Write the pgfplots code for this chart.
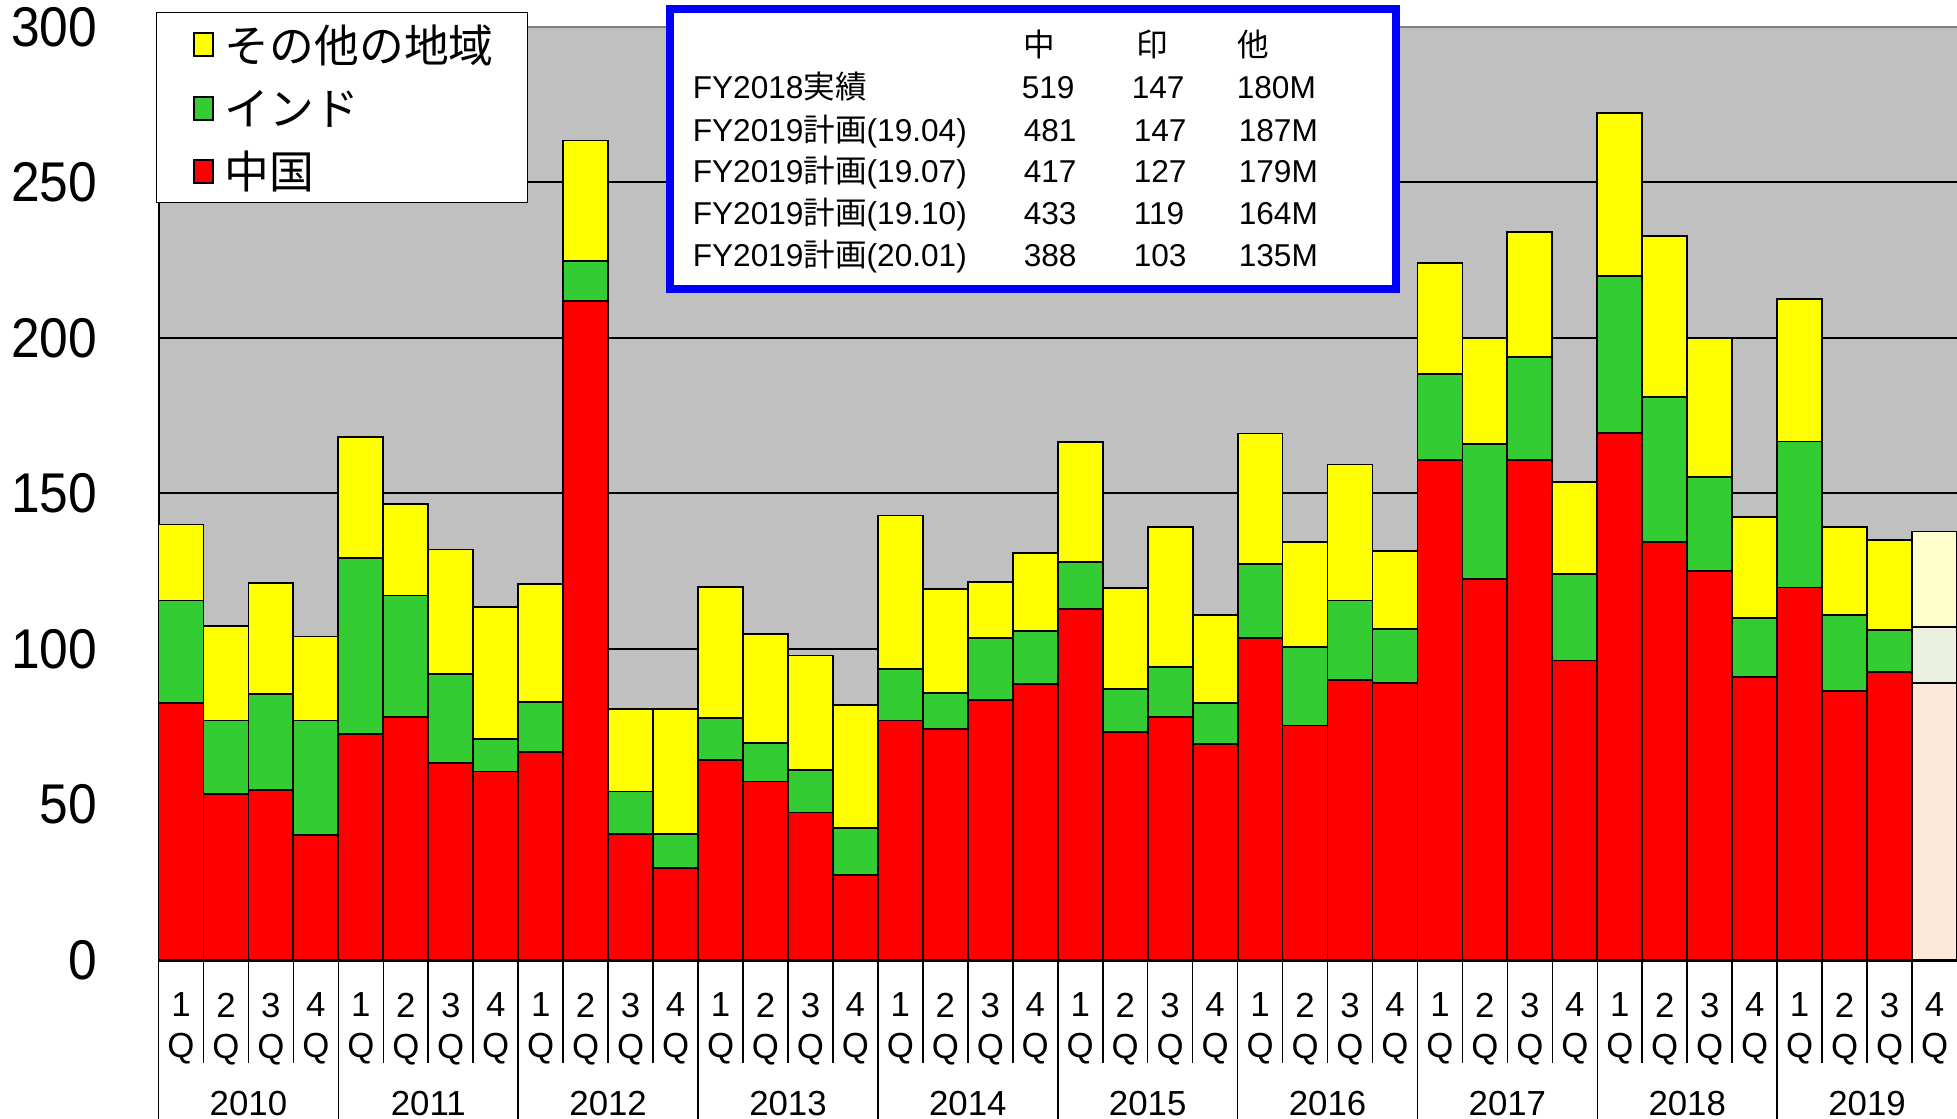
\documentclass[border=0pt]{standalone}
\usepackage{pgfplots}
\usepackage{pgfplotstable}
\pgfplotsset{compat=1.18}
\usepackage{fontspec}
\setmainfont{Liberation Sans}
\newfontfamily\narrowf{Liberation Sans}[FakeStretch=0.92]
\newfontfamily\jp{Noto Sans CJK JP}
\definecolor{cR}{HTML}{FF0000}
\definecolor{cG}{HTML}{33CC33}
\definecolor{cY}{HTML}{FFFF00}
\definecolor{pR}{HTML}{FDE9D9}
\definecolor{pG}{HTML}{EBF1DE}
\definecolor{pY}{HTML}{FFFFCC}
\definecolor{bg}{HTML}{C0C0C0}
\definecolor{topg}{HTML}{808080}
\definecolor{bl}{HTML}{0000FF}

\pgfplotstableread{
x r g y pr pg py
0 82.7 32.9 24.4 0 0 0
1 53.4 23.6 30.5 0 0 0
2 54.6 30.9 35.7 0 0 0
3 40.1 36.9 27.0 0 0 0
4 72.6 56.6 38.9 0 0 0
5 78.2 39.0 29.3 0 0 0
6 63.4 28.5 40.1 0 0 0
7 60.6 10.4 42.6 0 0 0
8 67.0 16.0 37.8 0 0 0
9 211.8 13.0 38.7 0 0 0
10 40.5 13.7 26.5 0 0 0
11 29.7 10.8 40.2 0 0 0
12 64.2 13.6 42.2 0 0 0
13 57.4 12.4 34.9 0 0 0
14 47.4 13.6 36.9 0 0 0
15 27.3 15.2 39.4 0 0 0
16 77.0 16.5 49.4 0 0 0
17 74.2 11.7 33.3 0 0 0
18 83.5 20.0 18.1 0 0 0
19 88.7 17.2 24.9 0 0 0
20 112.8 15.2 38.5 0 0 0
21 73.4 13.7 32.5 0 0 0
22 78.2 16.1 44.9 0 0 0
23 69.4 13.3 28.1 0 0 0
24 103.5 23.7 42.1 0 0 0
25 75.4 25.3 33.7 0 0 0
26 89.9 25.7 43.7 0 0 0
27 89.1 17.2 25.3 0 0 0
28 160.8 27.5 35.7 0 0 0
29 122.4 43.6 33.8 0 0 0
30 160.8 33.1 40.3 0 0 0
31 96.3 27.7 29.6 0 0 0
32 169.5 50.3 52.5 0 0 0
33 134.4 46.6 51.7 0 0 0
34 125.2 30.0 44.6 0 0 0
35 91.1 18.9 32.5 0 0 0
36 119.8 46.9 45.9 0 0 0
37 86.4 24.5 28.2 0 0 0
38 92.6 13.6 28.8 0 0 0
39 0 0 0 89.0 18.1 30.7
}\data

\begin{document}
\begin{tikzpicture}
\useasboundingbox (0,0) rectangle (489.25pt,279.75pt);
\begin{axis}[
  at={(39.625pt,39.75pt)}, anchor=south west,
  scale only axis, width=449.625pt, height=233.25pt,
  xmin=-0.5, xmax=39.5, ymin=0, ymax=300,
  ybar stacked, bar width=1,
  clip=false,
  axis background/.style={fill=bg},
  axis line style={draw=none},
  major tick length=0pt,
  ymajorgrids, grid style={black, line width=0.5pt},
  ytick={0,50,...,300},
  /pgf/number format/assume math mode=true,
  yticklabel style={font=\narrowf\fontsize{14}{16}\selectfont, xshift=-11.8pt},
  xtick={0,...,39},
  xticklabels={1\\Q,2\\Q,3\\Q,4\\Q,1\\Q,2\\Q,3\\Q,4\\Q,1\\Q,2\\Q,3\\Q,4\\Q,1\\Q,2\\Q,3\\Q,4\\Q,1\\Q,2\\Q,3\\Q,4\\Q,1\\Q,2\\Q,3\\Q,4\\Q,1\\Q,2\\Q,3\\Q,4\\Q,1\\Q,2\\Q,3\\Q,4\\Q,1\\Q,2\\Q,3\\Q,4\\Q,1\\Q,2\\Q,3\\Q,4\\Q},
  xticklabel style={align=center, font=\fontsize{8.7}{10.25}\selectfont, anchor=center, yshift=-17.2pt},
  every axis plot/.append style={draw=black, line width=0.45pt},
]
\addplot[fill=cR] table[x=x,y=r]{\data};
\addplot[fill=cG] table[x=x,y=g]{\data};
\addplot[fill=cY] table[x=x,y=y]{\data};
\addplot[fill=pR] table[x=x,y=pr]{\data};
\addplot[fill=pG] table[x=x,y=pg]{\data};
\addplot[fill=pY] table[x=x,y=py]{\data};
% axis frame
\draw[black, line width=0.5pt] (axis cs:-0.5,0) -- (axis cs:-0.5,300);
\draw[topg, line width=0.6pt] (axis cs:-0.5,300) -- (axis cs:39.5,300);
\draw[black, line width=0.9pt] (axis cs:-0.5,0) -- (axis cs:39.5,0);
% separators
\pgfplotsinvokeforeach{0.5,1.5,...,38.5}{\draw[black, line width=0.4pt] (axis cs:#1,0) -- (axis cs:#1,-33.1);}
\pgfplotsinvokeforeach{-0.5,3.5,...,35.5}{\draw[black, line width=0.4pt] (axis cs:#1,0) -- (axis cs:#1,-55);}
% years
\node[font=\fontsize{8.7}{10}\selectfont] at (axis cs:1.5,-46.3) {2010};
\node[font=\fontsize{8.7}{10}\selectfont] at (axis cs:5.5,-46.3) {2011};
\node[font=\fontsize{8.7}{10}\selectfont] at (axis cs:9.5,-46.3) {2012};
\node[font=\fontsize{8.7}{10}\selectfont] at (axis cs:13.5,-46.3) {2013};
\node[font=\fontsize{8.7}{10}\selectfont] at (axis cs:17.5,-46.3) {2014};
\node[font=\fontsize{8.7}{10}\selectfont] at (axis cs:21.5,-46.3) {2015};
\node[font=\fontsize{8.7}{10}\selectfont] at (axis cs:25.5,-46.3) {2016};
\node[font=\fontsize{8.7}{10}\selectfont] at (axis cs:29.5,-46.3) {2017};
\node[font=\fontsize{8.7}{10}\selectfont] at (axis cs:33.5,-46.3) {2018};
\node[font=\fontsize{8.7}{10}\selectfont] at (axis cs:37.5,-46.3) {2019};
\end{axis}
% overlays in image pixel coordinates
\begin{scope}[x=0.25pt, y=-0.25pt, yshift=279.75pt]
  % legend
  \draw[black, line width=0.4pt, fill=white] (156.5,12.7) rectangle (527.5,202.5);
  \draw[black, line width=0.35pt, fill=cY] (194,33) rectangle (213,56);
  \draw[black, line width=0.35pt, fill=cG] (194,97) rectangle (213,120);
  \draw[black, line width=0.35pt, fill=cR] (194,160) rectangle (213,183);
  \node[anchor=west, inner sep=0pt, font=\jp\fontsize{11.2}{13}\selectfont] at (224,45) {その他の地域};
  \node[anchor=west, inner sep=0pt, font=\jp\fontsize{11.2}{13}\selectfont] at (224,109) {インド};
  \node[anchor=west, inner sep=0pt, font=\jp\fontsize{11.2}{13}\selectfont] at (224,172) {中国};
  % table box
  \draw[bl, line width=2pt, fill=white] (670,9) rectangle (1396,289);
  \begin{scope}[every node/.style={anchor=base west, inner sep=0pt, font=\fontsize{7.9}{9}\selectfont}]
    \node at (1023,57) {\jp 中};
    \node at (1136,57) {\jp 印};
    \node at (1237,57) {\jp 他};
    \node at (692,99) {FY2018{\jp 実績}};
    \node at (692,142) {FY2019{\jp 計画}(19.04)};
    \node at (692,183) {FY2019{\jp 計画}(19.07)};
    \node at (692,225) {FY2019{\jp 計画}(19.10)};
    \node at (692,267) {FY2019{\jp 計画}(20.01)};
    \node at (1021,99) {519};
    \node at (1023,142) {481};
    \node at (1023,183) {417};
    \node at (1023,225) {433};
    \node at (1023,267) {388};
    \node at (1131,99) {147};
    \node at (1133,142) {147};
    \node at (1133,183) {127};
    \node at (1133,225) {119};
    \node at (1133,267) {103};
    \node at (1236,99) {180M};
    \node at (1238,142) {187M};
    \node at (1238,183) {179M};
    \node at (1238,225) {164M};
    \node at (1238,267) {135M};
  \end{scope}
\end{scope}
\end{tikzpicture}
\end{document}
